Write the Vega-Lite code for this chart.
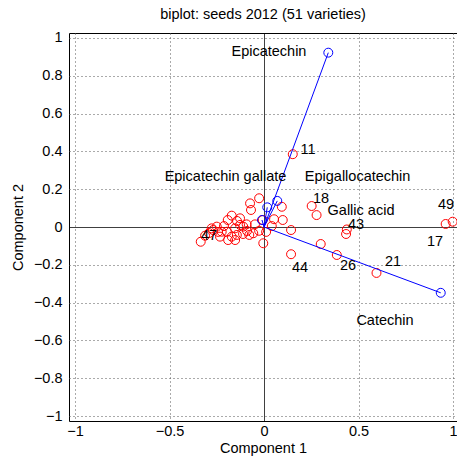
{
  "$schema": "https://vega.github.io/schema/vega-lite/v6.json",
  "autosize": {"type": "none"},
  "padding": {"left": 69, "top": 33, "right": 0, "bottom": 43},
  "width": 388,
  "height": 388,
  "title": {"text": "biplot: seeds 2012 (51 varieties)", "font": "Liberation Sans", "fontSize": 14.5, "fontWeight": "normal", "color": "#000", "offset": 7, "anchor": "middle"},
  "config": {
    "view": {"stroke": "#000", "strokeWidth": 1},
    "axis": {"labelFont": "Liberation Sans", "labelFontSize": 14.5, "labelColor": "#000", "titleFont": "Liberation Sans", "titleFontSize": 14.5, "titleFontWeight": "normal", "titleColor": "#000", "gridOpacity": 1, "domain": false, "ticks": false, "format": "~g", "labelOverlap": false, "labelBound": false, "labelFlush": false}
  },
  "datasets": {
    "pts": [
      {"x": -0.335, "y": -0.078}, {"x": -0.312, "y": -0.046}, {"x": -0.277, "y": -0.007}, {"x": -0.250, "y": 0.002},
      {"x": -0.224, "y": -0.025}, {"x": -0.233, "y": -0.051}, {"x": -0.192, "y": 0.037}, {"x": -0.171, "y": 0.060},
      {"x": -0.153, "y": -0.007}, {"x": -0.144, "y": -0.042}, {"x": -0.127, "y": 0.011}, {"x": -0.110, "y": 0.002},
      {"x": -0.092, "y": 0.014}, {"x": -0.074, "y": 0.125}, {"x": -0.069, "y": 0.090}, {"x": -0.026, "y": 0.152},
      {"x": -0.048, "y": 0.014}, {"x": -0.057, "y": -0.033}, {"x": -0.004, "y": -0.086}, {"x": -0.171, "y": -0.051},
      {"x": -0.197, "y": -0.025}, {"x": -0.007, "y": 0.037}, {"x": 0.053, "y": 0.041}, {"x": 0.099, "y": 0.037},
      {"x": 0.041, "y": 0.005}, {"x": 0.094, "y": 0.107}, {"x": 0.143, "y": -0.016}, {"x": 0.252, "y": 0.111},
      {"x": 0.278, "y": 0.063}, {"x": 0.438, "y": -0.013}, {"x": 0.434, "y": -0.037}, {"x": 0.300, "y": -0.090},
      {"x": 0.143, "y": -0.144}, {"x": 0.385, "y": -0.148}, {"x": 0.595, "y": -0.243}, {"x": 0.961, "y": 0.016},
      {"x": 0.998, "y": 0.028}, {"x": 0.152, "y": 0.385}, {"x": -0.078, "y": -0.042}, {"x": -0.026, "y": -0.020},
      {"x": -0.270, "y": -0.016}, {"x": -0.243, "y": -0.026}, {"x": -0.291, "y": -0.032}, {"x": -0.212, "y": 0.005},
      {"x": -0.143, "y": 0.032}, {"x": -0.111, "y": -0.037}, {"x": -0.090, "y": -0.021}, {"x": 0.011, "y": -0.026},
      {"x": -0.190, "y": -0.069}, {"x": -0.127, "y": 0.046}, {"x": -0.153, "y": -0.069}
    ],
    "vec": [
      {"name": "Epicatechin", "end": false, "x": 0, "y": 0},
      {"name": "Epicatechin", "end": true, "x": 0.340, "y": 0.922},
      {"name": "Catechin", "end": false, "x": 0, "y": 0},
      {"name": "Catechin", "end": true, "x": 0.935, "y": -0.348},
      {"name": "Epicatechin gallate", "end": false, "x": 0, "y": 0},
      {"name": "Epicatechin gallate", "end": true, "x": 0.017, "y": 0.104},
      {"name": "Epigallocatechin", "end": false, "x": 0, "y": 0},
      {"name": "Epigallocatechin", "end": true, "x": 0.070, "y": 0.138},
      {"name": "Gallic acid", "end": false, "x": 0, "y": 0},
      {"name": "Gallic acid", "end": true, "x": -0.011, "y": 0.037}
    ],
    "labs": [
      {"t": "11", "x": 0.233, "y": 0.407},
      {"t": "18", "x": 0.302, "y": 0.148},
      {"t": "43", "x": 0.487, "y": 0.008},
      {"t": "44", "x": 0.190, "y": -0.217},
      {"t": "26", "x": 0.444, "y": -0.206},
      {"t": "21", "x": 0.683, "y": -0.185},
      {"t": "17", "x": 0.905, "y": -0.079},
      {"t": "49", "x": 0.963, "y": 0.116},
      {"t": "47", "x": -0.291, "y": -0.048},
      {"t": "Epicatechin", "x": 0.026, "y": 0.926},
      {"t": "Epicatechin gallate", "x": -0.204, "y": 0.265},
      {"t": "Epigallocatechin", "x": 0.495, "y": 0.265},
      {"t": "Gallic acid", "x": 0.513, "y": 0.082},
      {"t": "Catechin", "x": 0.640, "y": -0.497}
    ]
  },
  "encoding": {
    "x": {"field": "x", "type": "quantitative", "scale": {"domain": [-1.032, 1.021], "nice": false, "zero": false},
      "axis": {"values": [-1, -0.5, 0, 0.5, 1], "title": "Component 1", "labelPadding": 3, "titlePadding": 4, "labelOverlap": false,
        "gridColor": {"condition": {"test": "datum.value === 0", "value": "#000"}, "value": "#555"},
        "gridDash": {"condition": {"test": "datum.value === 0", "value": [1, 0]}, "value": [1, 3]}}},
    "y": {"field": "y", "type": "quantitative", "scale": {"domain": [-1.026, 1.026], "nice": false, "zero": false},
      "axis": {"values": [-1, -0.8, -0.6, -0.4, -0.2, 0, 0.2, 0.4, 0.6, 0.8, 1], "title": "Component 2", "labelPadding": 7, "titlePadding": 8, "labelOverlap": false,
        "gridColor": {"condition": {"test": "datum.value === 0", "value": "#000"}, "value": "#555"},
        "gridDash": {"condition": {"test": "datum.value === 0", "value": [1, 0]}, "value": [1, 3]}}}
  },
  "layer": [
    {
      "data": {"name": "pts"},
      "mark": {"type": "point", "shape": "circle", "filled": false, "color": "#ff0000", "size": 80, "strokeWidth": 1, "opacity": 1}
    },
    {
      "data": {"name": "vec"},
      "mark": {"type": "line", "color": "#0000ff", "strokeWidth": 1},
      "encoding": {"detail": {"field": "name", "type": "nominal"}, "order": {"field": "end", "type": "nominal"}}
    },
    {
      "data": {"name": "vec"},
      "transform": [{"filter": "datum.end"}],
      "mark": {"type": "point", "shape": "circle", "filled": false, "color": "#0000ff", "size": 80, "strokeWidth": 1, "opacity": 1}
    },
    {
      "data": {"name": "labs"},
      "mark": {"type": "text", "font": "Liberation Sans", "fontSize": 14.5, "color": "#000", "align": "center", "baseline": "middle"},
      "encoding": {"text": {"field": "t", "type": "nominal"}}
    }
  ]
}
